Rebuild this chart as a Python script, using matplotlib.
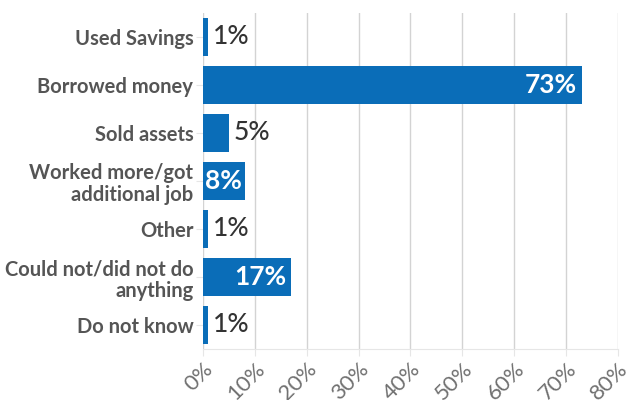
import matplotlib
matplotlib.use("Agg")
import matplotlib.pyplot as plt
from matplotlib.ticker import FuncFormatter

categories = [
    "Used Savings",
    "Borrowed money",
    "Sold assets",
    "Worked more/got\nadditional job",
    "Other",
    "Could not/did not do\nanything",
    "Do not know",
]
values = [1, 73, 5, 8, 1, 17, 1]
# where each value label sits: outside the bar, inside at the end, or inside at the start
label_pos = ["out", "in_end", "out", "in_start", "out", "in_end", "out"]
xticks = [0, 10, 20, 30, 40, 50, 60, 70, 80]

bar_color = "#0a6db8"
grid_color = "#d3d3d3"

plt.rcParams["font.family"] = ["Lato", "DejaVu Sans"]

fig = plt.figure(figsize=(6.27, 4.0), dpi=100)
ax = fig.add_axes([0.3238, 0.1275, 0.6618, 0.84])

y = list(range(len(categories)))
ax.barh(y, values, height=0.79, color=bar_color, zorder=3)

ax.set_ylim(len(categories) - 0.5, -0.5)
ax.set_xlim(0, 80)
ax.set_xticks(xticks)
ax.xaxis.set_major_formatter(FuncFormatter(lambda v, p: f"{v:.0f}%"))
ax.set_yticks(y)
ax.set_yticklabels(categories, fontsize=14.5, fontweight="bold", color="#555555",
                   linespacing=1.1)

for lbl in ax.get_xticklabels():
    lbl.set_rotation(45)
    lbl.set_ha("right")
    lbl.set_va("top")
    lbl.set_rotation_mode("anchor")
    lbl.set_fontsize(16)
    lbl.set_color("#707070")

ax.tick_params(axis="y", length=5, color="#e6e6e6", pad=2)
ax.tick_params(axis="x", length=5, color="#e6e6e6", pad=2)

ax.grid(axis="x", color=grid_color, linewidth=1, zorder=0)
for s in ["top", "right", "left"]:
    ax.spines[s].set_visible(False)
ax.spines["bottom"].set_color("#e6e6e6")

for yi, v, pos in zip(y, values, label_pos):
    txt = f"{v}%"
    if pos == "out":
        ax.text(v + 0.9, yi, txt, va="center", ha="left", fontsize=19,
                fontweight="medium", color="#333333", zorder=4)
    elif pos == "in_end":
        ax.text(v - 0.9, yi, txt, va="center", ha="right", fontsize=19,
                fontweight="bold", color="white", zorder=4)
    else:
        ax.text(0.3, yi, txt, va="center", ha="left", fontsize=19,
                fontweight="bold", color="white", zorder=4)

fig.savefig("out.png", dpi=100)
